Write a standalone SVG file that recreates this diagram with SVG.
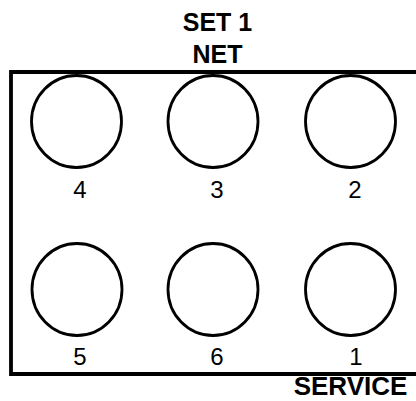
<svg xmlns="http://www.w3.org/2000/svg" width="416" height="401" viewBox="0 0 416 401">
<style>
.port{fill:none;stroke:#000;stroke-width:2.8}
.num{font-family:"Liberation Sans",Arial,sans-serif;font-size:24px;fill:#000;text-anchor:middle}
.title{font-family:"Liberation Sans",Arial,sans-serif;font-weight:bold;font-size:25px;fill:#000;text-anchor:middle}
</style>
<rect width="416" height="401" fill="#fff"/>
<g id="panel"><path d="M420 72 H11 V374 H420" fill="none" stroke="#000" stroke-width="3.8"/></g>
<g id="labels">
<text class="title" x="217.5" y="31">SET 1</text>
<text class="title" x="217.5" y="63">NET</text>
<text class="title" x="350.5" y="395" style="font-size:26px">SERVICE</text>
</g>
<g id="port4"><ellipse class="port" cx="76.5" cy="121.5" rx="45" ry="46"/><text class="num" x="80" y="198">4</text></g>
<g id="port3"><ellipse class="port" cx="213" cy="121.5" rx="45" ry="46"/><text class="num" x="217" y="198">3</text></g>
<g id="port2"><ellipse class="port" cx="350.5" cy="121.5" rx="45" ry="46"/><text class="num" x="355" y="198">2</text></g>
<g id="port5"><ellipse class="port" cx="77" cy="289.5" rx="45" ry="46"/><text class="num" x="80" y="365">5</text></g>
<g id="port6"><ellipse class="port" cx="213" cy="289.5" rx="45" ry="46"/><text class="num" x="217" y="365">6</text></g>
<g id="port1"><ellipse class="port" cx="350.5" cy="289.5" rx="45" ry="46"/><text class="num" x="356" y="365">1</text></g>
<g id="connectors"></g>
</svg>
